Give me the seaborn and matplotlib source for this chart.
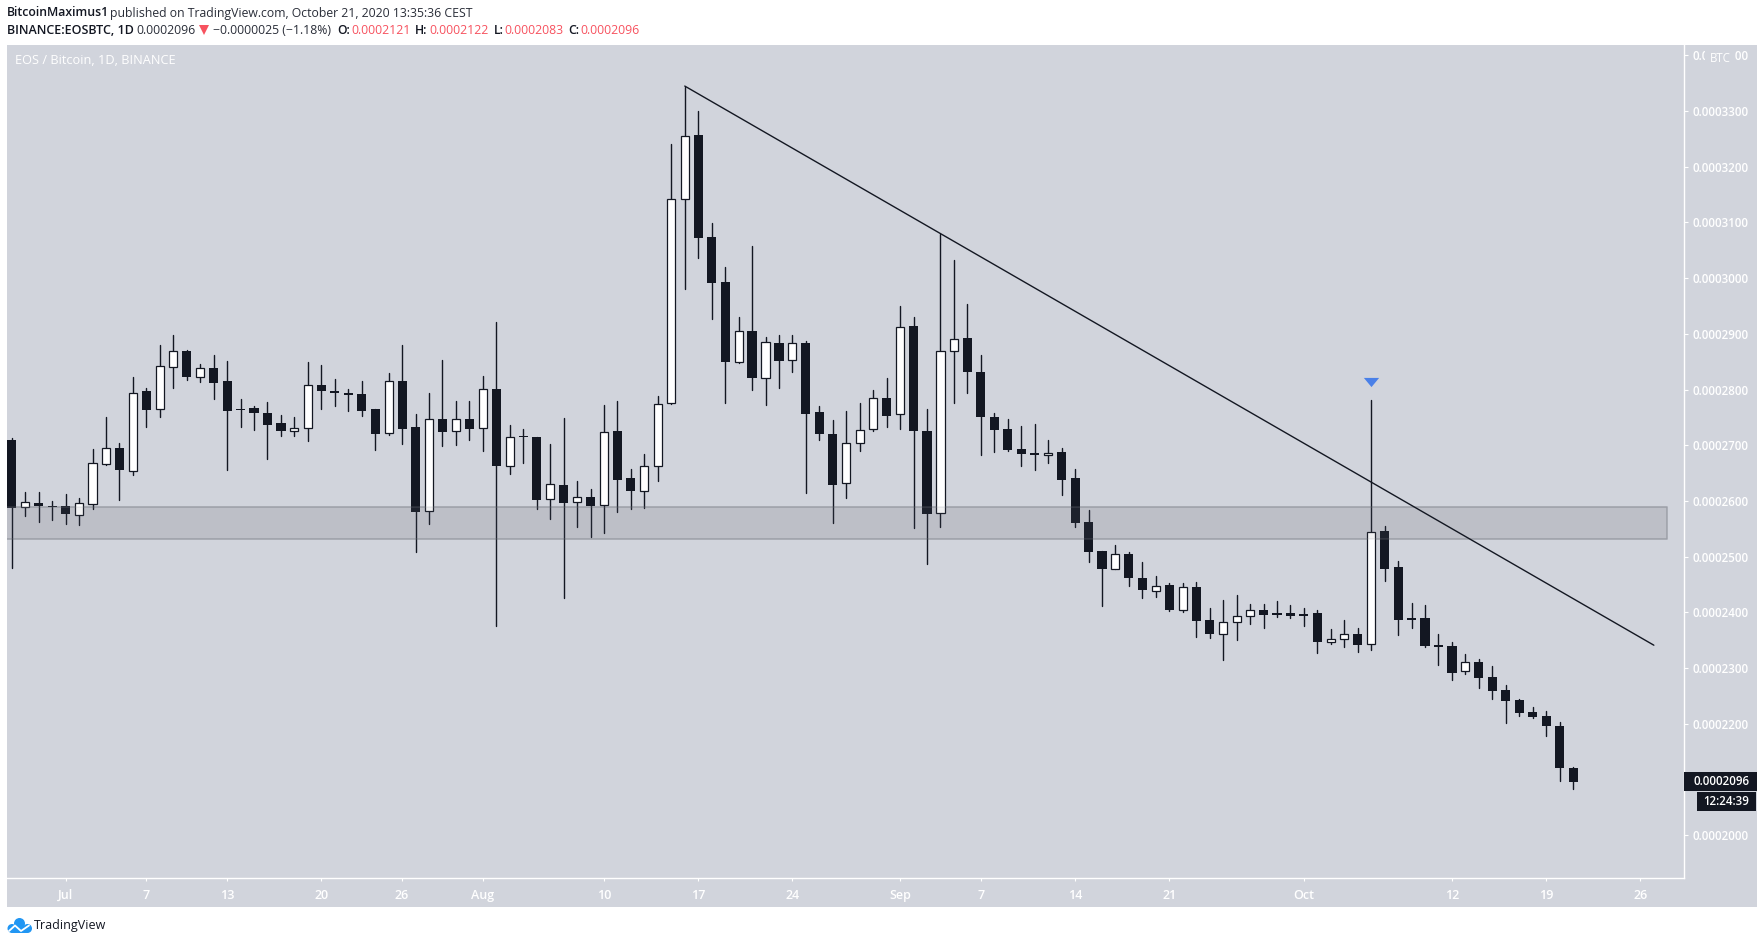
import pandas as pd
import matplotlib
matplotlib.use('Agg')
import matplotlib.pyplot as plt
import matplotlib.patches as mpatches
import seaborn as sns

# prices are in units of 0.0000001 BTC, one row per day starting 2020-06-27
first_day = '2020-06-27'
opens = [2710, 2589, 2596, 2591, 2591, 2574, 2595, 2667, 2695, 2653, 2798, 2766, 2841, 2869, 2823, 2839, 2815, 2765, 2767, 2758,
         2740, 2726, 2731, 2808, 2798, 2794, 2792, 2765, 2722, 2815, 2733, 2582, 2747, 2725, 2747, 2731, 2801, 2662, 2717, 2715,
         2603, 2629, 2599, 2607, 2592, 2726, 2641, 2617, 2662, 2775, 3143, 3257, 3074, 2993, 2850, 2905, 2820, 2884, 2853, 2884,
         2760, 2720, 2632, 2704, 2729, 2785, 2756, 2914, 2726, 2578, 2869, 2893, 2832, 2751, 2729, 2693, 2686, 2683, 2688, 2641,
         2562, 2510, 2477, 2505, 2462, 2439, 2449, 2405, 2446, 2386, 2362, 2382, 2393, 2404, 2398, 2399, 2397, 2399, 2347, 2352,
         2361, 2343, 2546, 2481, 2389, 2390, 2341, 2340, 2294, 2311, 2284, 2261, 2243, 2221, 2214, 2196, 2121]
highs = [2713, 2616, 2616, 2600, 2613, 2605, 2693, 2751, 2704, 2822, 2802, 2880, 2898, 2871, 2846, 2862, 2851, 2783, 2771, 2778,
         2754, 2751, 2850, 2844, 2819, 2801, 2815, 2765, 2830, 2880, 2756, 2794, 2853, 2780, 2780, 2824, 2921, 2737, 2729, 2715,
         2702, 2749, 2636, 2622, 2772, 2780, 2658, 2684, 2788, 3241, 3344, 3300, 3099, 3020, 2930, 3058, 2894, 2898, 2898, 2887,
         2771, 2745, 2762, 2776, 2799, 2821, 2950, 2930, 2765, 3080, 3033, 2954, 2862, 2758, 2747, 2735, 2738, 2710, 2695, 2658,
         2584, 2510, 2521, 2508, 2491, 2465, 2452, 2452, 2454, 2408, 2422, 2431, 2415, 2415, 2420, 2413, 2408, 2404, 2370, 2386,
         2372, 2781, 2555, 2492, 2417, 2413, 2361, 2347, 2325, 2316, 2304, 2270, 2245, 2230, 2223, 2203, 2122]
lows = [2480, 2573, 2563, 2565, 2559, 2556, 2586, 2665, 2601, 2647, 2732, 2751, 2803, 2817, 2814, 2783, 2656, 2732, 2728, 2676,
        2717, 2717, 2708, 2766, 2771, 2762, 2753, 2692, 2719, 2703, 2509, 2559, 2699, 2701, 2710, 2689, 2376, 2649, 2669, 2586,
        2568, 2425, 2554, 2535, 2543, 2581, 2586, 2588, 2635, 2774, 2981, 3037, 2926, 2775, 2848, 2800, 2773, 2802, 2832, 2615,
        2710, 2561, 2606, 2690, 2726, 2732, 2730, 2552, 2486, 2553, 2775, 2793, 2683, 2688, 2690, 2662, 2656, 2669, 2611, 2553,
        2491, 2412, 2477, 2448, 2425, 2428, 2403, 2401, 2355, 2354, 2315, 2351, 2379, 2372, 2391, 2389, 2376, 2327, 2344, 2338,
        2329, 2333, 2456, 2359, 2372, 2338, 2306, 2279, 2289, 2264, 2245, 2201, 2214, 2210, 2178, 2097, 2083]
closes = [2588, 2598, 2591, 2589, 2576, 2596, 2668, 2695, 2656, 2793, 2764, 2842, 2869, 2823, 2838, 2812, 2762, 2763, 2758, 2737,
          2726, 2731, 2808, 2798, 2793, 2790, 2762, 2721, 2815, 2730, 2581, 2747, 2723, 2747, 2730, 2801, 2662, 2714, 2714, 2602,
          2630, 2597, 2607, 2591, 2723, 2638, 2617, 2662, 2774, 3142, 3256, 3073, 2992, 2850, 2905, 2820, 2885, 2852, 2883, 2757,
          2721, 2629, 2704, 2727, 2784, 2753, 2912, 2725, 2577, 2869, 2890, 2832, 2750, 2728, 2692, 2685, 2683, 2687, 2638, 2561,
          2509, 2477, 2504, 2461, 2441, 2447, 2405, 2445, 2385, 2362, 2382, 2393, 2404, 2396, 2396, 2394, 2394, 2346, 2352, 2361,
          2342, 2544, 2478, 2386, 2387, 2340, 2338, 2291, 2310, 2282, 2259, 2241, 2219, 2212, 2196, 2121, 2096]

y_ticks = [2000, 2100, 2200, 2300, 2400, 2500, 2600, 2700, 2800, 2900, 3000, 3100, 3200, 3300, 3400]
x_tick_dates = ['2020-07-01', '2020-07-07', '2020-07-13', '2020-07-20', '2020-07-26', '2020-08-01', '2020-08-10', '2020-08-17', '2020-08-24',
                '2020-09-01', '2020-09-07', '2020-09-14', '2020-09-21', '2020-10-01', '2020-10-12', '2020-10-19', '2020-10-26']
x_tick_labels = ['Jul', '7', '13', '20', '26', 'Aug', '10', '17', '24', 'Sep', '7', '14', '21', 'Oct', '12', '19', '26']

zone_low, zone_high = 2531, 2590
zone_dates = ['2020-06-01', '2020-10-28']
trend_dates = ['2020-08-16', '2020-10-27']
trend_prices = [3345, 2341]
signal_date, signal_price = '2020-10-06', 2814

BG = '#d1d4dc'
DARK = '#131722'
RED = '#f7525f'
TICK = ['Open Sans', 'DejaVu Sans']
TICK_SIZE = 8.3
W, H = 1763, 944

sns.set_theme(style='white')

df = pd.DataFrame({'open': opens, 'high': highs, 'low': lows, 'close': closes})
df['date'] = pd.date_range(first_day, periods=len(df), freq='D')
df['candle'] = range(len(df))
df['top'] = df[['open', 'close']].max(axis=1)
df['bottom'] = df[['open', 'close']].min(axis=1)
wicks = df.melt(id_vars=['date', 'candle'], value_vars=['high', 'low'], value_name='price')

fig = plt.figure(figsize=(W / 100, H / 100), dpi=100, facecolor='white')

def box(l, t, r, b):
    return [l / W, 1 - b / H, (r - l) / W, (b - t) / H]

back = fig.add_axes(box(7, 45, 1757, 907), facecolor=BG)
back.set_xticks([])
back.set_yticks([])
for s in back.spines.values():
    s.set_visible(False)

ax = fig.add_axes(box(7, 45, 1684, 878))
ax.patch.set_alpha(0)

# zone: solid part under the candles, thin veil on top so white bodies go slightly grey
zx = pd.to_datetime(zone_dates)
ax.fill_between(zx, zone_low, zone_high, color='#c5c7cf', linewidth=0, zorder=1)
ax.plot([zx[0], zx[1], zx[1], zx[0]], [zone_high, zone_high, zone_low, zone_low], color='#a0a3ab', lw=1.1, zorder=1.2)

sns.lineplot(data=wicks, x='date', y='price', units='candle', estimator=None, sort=False,
             color=DARK, linewidth=1.0, legend=False, zorder=2, ax=ax)

up = df[df['close'] >= df['open']]
down = df[df['close'] < df['open']]
ax.bar(down['date'], down['top'] - down['bottom'], bottom=down['bottom'], width=0.68, color=DARK, linewidth=0, zorder=3)
ax.bar(up['date'], up['top'] - up['bottom'], bottom=up['bottom'], width=0.6, color='white', edgecolor=DARK, linewidth=0.9, zorder=3)

ax.fill_between(zx, zone_low, zone_high, color='#787b86', alpha=0.1, linewidth=0, zorder=4)
ax.plot([zx[0], zx[1]], [zone_high, zone_high], color='#a0a3ab', lw=1.1, alpha=0.2, zorder=4)
ax.plot([zx[0], zx[1]], [zone_low, zone_low], color='#a0a3ab', lw=1.1, alpha=0.2, zorder=4)

sns.lineplot(x=pd.to_datetime(trend_dates), y=trend_prices, color=DARK, linewidth=1.0, zorder=5, ax=ax)
ax.plot(pd.Timestamp(signal_date), signal_price, marker=[(-1, 0.6), (1, 0.6), (0, -0.6)], ms=11, color='#4a80e8', mew=0, zorder=6)

ax.set_xlim(pd.Timestamp(first_day) - pd.Timedelta(days=0.354), pd.Timestamp(first_day) + pd.Timedelta(days=124.24))
ax.set_ylim(1923, 3418.7)
ax.set_xlabel('')
ax.set_ylabel('')
ax.yaxis.tick_right()
ax.set_yticks(y_ticks)
ax.set_yticklabels(['0.000%d' % v for v in y_ticks], family=TICK, fontsize=TICK_SIZE, weight='semibold', color='white')
ax.set_xticks(pd.to_datetime(x_tick_dates))
ax.set_xticklabels(x_tick_labels, family=TICK, fontsize=TICK_SIZE + 0.7, weight='semibold', color='white')
ax.tick_params(axis='y', length=3, width=0.8, color='white', pad=3.2)
ax.tick_params(axis='x', length=2.2, width=0.8, color='white', pad=5.5, bottom=True)
for name in ['left', 'top']:
    ax.spines[name].set_visible(False)
for name in ['right', 'bottom']:
    ax.spines[name].set_color('white')
    ax.spines[name].set_linewidth(1.0)

# header, footer and price labels sit on an overlay measured in image pixels
ov = fig.add_axes([0, 0, 1, 1])
ov.set_xlim(0, W)
ov.set_ylim(H, 0)
ov.axis('off')
HEAD = ['Open Sans', 'DejaVu Sans']
ov.text(7, 13, 'BitcoinMaximus1', family=HEAD, fontsize=8.8, weight='semibold', color=DARK, va='center')
ov.text(110, 13, 'published on TradingView.com, October 21, 2020 13:35:36 CEST', family=HEAD, fontsize=8.8, color='#2a2e39', va='center')
ov.text(7, 30, 'BINANCE:EOSBTC, 1D', family=HEAD, fontsize=9, weight='semibold', color=DARK, va='center')
ov.text(136, 30, '0.0002096', family=HEAD, fontsize=8.8, color='#2a2e39', va='center')
ov.plot(204, 30, marker='v', ms=7.5, color=RED, mew=0)
ov.text(213, 30, '\u22120.0000025 (\u22121.18%)', family=HEAD, fontsize=8.8, color='#2a2e39', va='center')
for x1, label, x2, value in [(337, 'O:', 351, '0.0002121'), (415, 'H:', 429, '0.0002122'),
                             (494, 'L:', 504, '0.0002083'), (568, 'C:', 580, '0.0002096')]:
    ov.text(x1, 30, label, family=HEAD, fontsize=8.8, weight='semibold', color=DARK, va='center')
    ov.text(x2, 30, value, family=HEAD, fontsize=8.8, color=RED, va='center')

ov.text(15, 60.5, 'EOS / Bitcoin, 1D, BINANCE', family=HEAD, fontsize=9.2, color='white', va='center')

# BTC unit box over the top tick label
ov.add_patch(mpatches.Rectangle((1705, 47), 30, 20, color=BG, lw=0))
ov.text(1720, 58, 'BTC', family=TICK, fontsize=TICK_SIZE, color='white', ha='center', va='center')

# last price and countdown tags
ov.add_patch(mpatches.Rectangle((1684, 772), 73, 19, color=DARK, lw=0))
ov.text(1693, 781.5, '0.0002096', family=TICK, fontsize=TICK_SIZE, weight='semibold', color='white', va='center')
ov.add_patch(mpatches.Rectangle((1697, 792), 59, 19, color=DARK, lw=0))
ov.text(1726.5, 801.5, '12:24:39', family=TICK, fontsize=TICK_SIZE, weight='semibold', color='white', ha='center', va='center')

# TradingView logo
LOGO = '#2196f3'
for cx, cy, r in [(12, 928.5, 4.5), (19.5, 923.5, 5.5), (27.5, 928.5, 4.5)]:
    ov.add_patch(mpatches.Circle((cx, cy), r, color=LOGO, lw=0))
ov.add_patch(mpatches.Rectangle((12, 926), 15, 7, color=LOGO, lw=0))
ov.plot([9, 15, 21, 29], [931, 925.5, 931, 925.5], color='white', lw=1.3)
ov.text(33.5, 926, 'TradingView', family=HEAD, fontsize=9, color=DARK, va='center')

fig.savefig('out.png', dpi=100)
